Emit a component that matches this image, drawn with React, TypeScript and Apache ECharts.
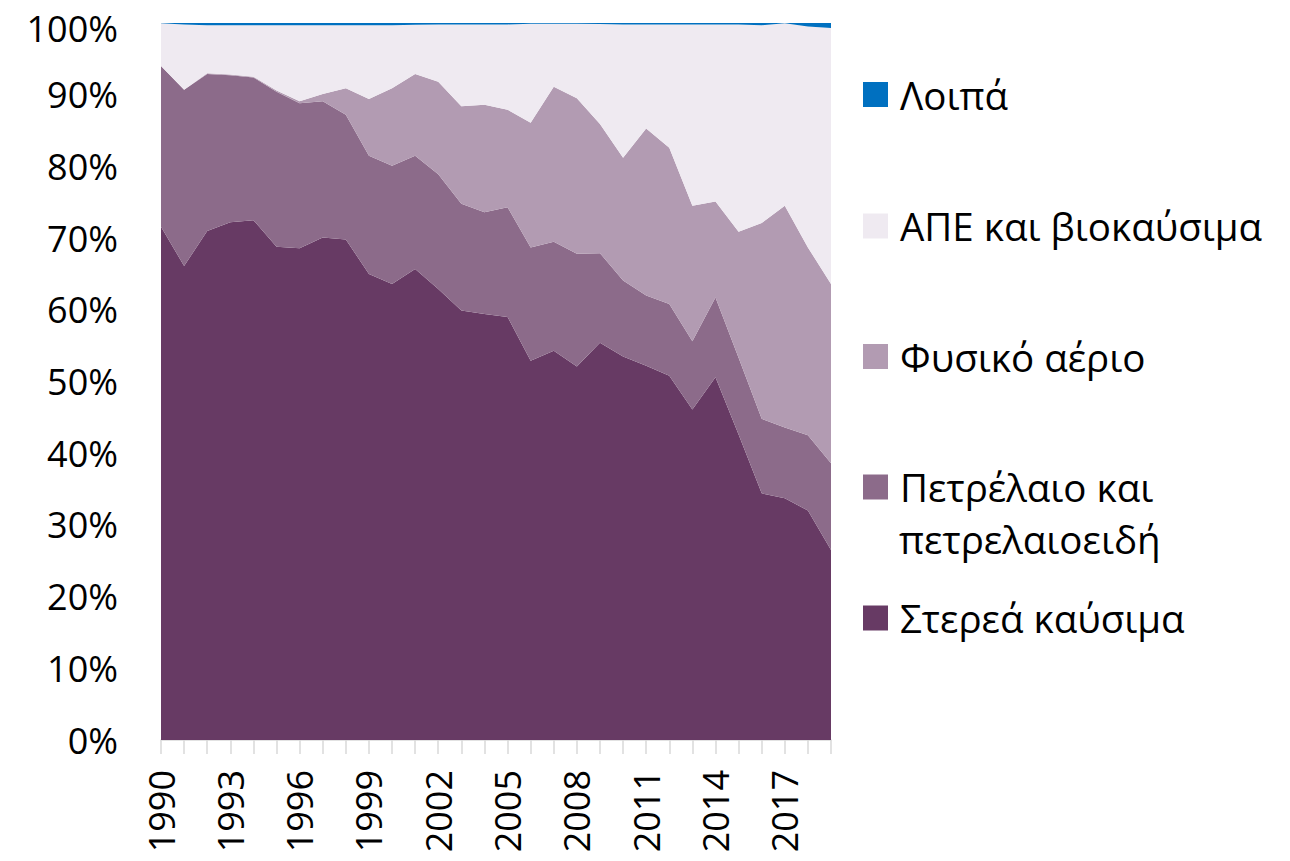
import React, { useEffect, useRef } from "react";
import * as echarts from "echarts";

const years = [
  "1990", "1991", "1992", "1993", "1994", "1995", "1996", "1997", "1998", "1999",
  "2000", "2001", "2002", "2003", "2004", "2005", "2006", "2007", "2008", "2009",
  "2010", "2011", "2012", "2013", "2014", "2015", "2016", "2017", "2018", "2019",
];

const solidFuels = [
  71.6, 66.1, 71.0, 72.2, 72.5, 68.8, 68.6, 70.1, 69.8, 65.0,
  63.6, 65.7, 62.9, 59.9, 59.4, 59.0, 52.9, 54.3, 52.1, 55.4,
  53.5, 52.2, 50.8, 46.1, 50.6, 42.6, 34.4, 33.7, 32.0, 26.5,
];

const oil = [
  22.4, 24.6, 21.9, 20.5, 19.9, 21.6, 20.2, 19.0, 17.4, 16.5,
  16.5, 15.8, 16.0, 14.9, 14.2, 15.3, 15.8, 15.2, 15.7, 12.5,
  10.6, 9.8, 10.0, 9.5, 11.1, 10.7, 10.4, 9.9, 10.5, 12.1,
];

const naturalGas = [
  0.0, 0.0, 0.1, 0.1, 0.1, 0.2, 0.3, 1.0, 3.7, 7.9,
  10.8, 11.4, 12.9, 13.6, 15.0, 13.6, 17.4, 21.6, 21.7, 18.0,
  17.1, 23.3, 21.8, 18.9, 13.4, 17.6, 27.3, 30.9, 26.2, 25.0,
];

const renewables = [
  5.95, 9.1, 6.7, 6.9, 7.2, 9.1, 10.6, 9.6, 8.8, 10.3,
  8.8, 6.85, 8.0, 11.4, 11.2, 11.9, 13.8, 8.8, 10.4, 13.95,
  18.6, 14.5, 17.2, 25.3, 24.7, 28.9, 27.6, 25.45, 30.8, 35.7,
];

const others = [
  0.05, 0.2, 0.3, 0.3, 0.3, 0.3, 0.3, 0.3, 0.3, 0.3,
  0.3, 0.25, 0.2, 0.2, 0.2, 0.2, 0.1, 0.1, 0.1, 0.15,
  0.2, 0.2, 0.2, 0.2, 0.2, 0.2, 0.3, 0.05, 0.5, 0.7,
];

const seriesNames = [
  "Στερεά καύσιμα",
  "Πετρέλαιο και",
  "Φυσικό αέριο",
  "ΑΠΕ και βιοκαύσιμα",
  "Λοιπά",
];
const seriesColors = ["#673A64", "#8C6B8A", "#B29BB2", "#EFEAF1", "#0070C0"];
const seriesData = [solidFuels, oil, naturalGas, renewables, others];
const legendCenters = [617.5, 486.5, 356, 225.5, 94];

const FONT = "'Open Sans', 'Noto Sans', sans-serif";
const FS = 36;
const LEGEND_FS = 38.5;

export default function App() {
  const ref = useRef<HTMLDivElement>(null);

  useEffect(() => {
    if (!ref.current) return;
    const chart = echarts.init(ref.current, null, { renderer: "svg" });

    const series = seriesNames.map((name, i) => ({
      name,
      type: "line",
      stack: "total",
      data: seriesData[i],
      symbol: "none",
      showSymbol: false,
      lineStyle: { width: 0 },
      areaStyle: { color: seriesColors[i], opacity: 1 },
      itemStyle: { color: seriesColors[i] },
      emphasis: { disabled: true },
    }));

    const legends = seriesNames.map((name, i) => ({
      data: [name],
      orient: "vertical",
      left: 863,
      top: legendCenters[i] - 19,
      padding: 0,
      itemWidth: 25,
      itemHeight: 25,
      icon: "rect",
      selectedMode: false,
      textStyle: {
        fontFamily: FONT,
        fontSize: LEGEND_FS,
        color: "#000",
        lineHeight: 25,
        padding: [0, 0, 0, 7],
      },
    }));

    chart.setOption({
      animation: false,
      backgroundColor: "#fff",
      grid: { left: 161, right: 459, top: 22, bottom: 121, containLabel: false },
      legend: legends,
      xAxis: {
        type: "category",
        boundaryGap: false,
        data: years,
        axisLine: { show: true, lineStyle: { color: "#D9D9D9", width: 1.5 } },
        axisTick: {
          show: true,
          interval: 0,
          length: 14,
          lineStyle: { color: "#D9D9D9", width: 1.5 },
        },
        axisLabel: {
          interval: 2,
          rotate: 90,
          margin: 30,
          fontFamily: FONT,
          fontSize: FS,
          color: "#000",
        },
        splitLine: { show: false },
      },
      yAxis: {
        type: "value",
        min: 0,
        max: 100,
        interval: 10,
        axisLine: { show: false },
        axisTick: { show: false },
        splitLine: { show: false },
        axisLabel: {
          formatter: (v: number) => (v === 100 ? "{t|100%}" : v + "%"),
          margin: 43,
          fontFamily: FONT,
          fontSize: FS,
          lineHeight: 36,
          color: "#000",
          rich: {
            t: {
              fontFamily: FONT,
              fontSize: FS,
              lineHeight: 36,
              color: "#000",
              padding: [10, 0, 0, 0],
            },
          },
        },
      },
      graphic: [
        {
          type: "text",
          left: 899,
          top: 486.5 + 52 - 19,
          style: {
            text: "πετρελαιοειδή",
            fontFamily: FONT,
            fontSize: LEGEND_FS,
            fill: "#000",
            lineHeight: 25,
          },
        },
      ],
      series,
    });

    return () => chart.dispose();
  }, []);

  return (
    <div
      ref={ref}
      style={{ position: "fixed", left: 0, top: 0, width: 1290, height: 861 }}
    />
  );
}
